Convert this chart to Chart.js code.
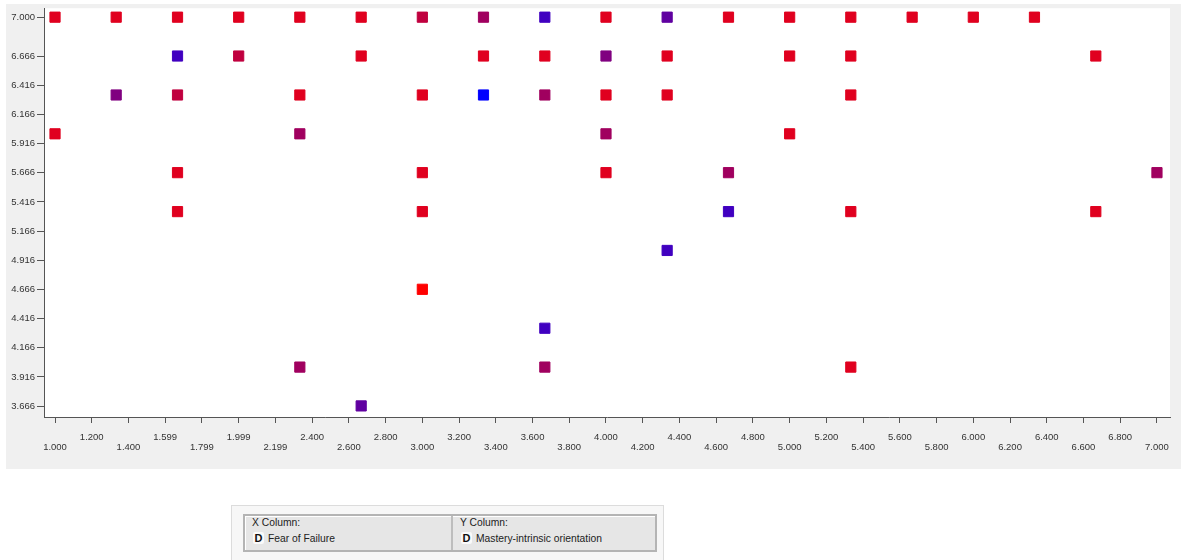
<!DOCTYPE html>
<html>
<head>
<meta charset="utf-8">
<script src="https://cdn.jsdelivr.net/npm/chart.js@4.4.1/dist/chart.umd.min.js"></script>
<style>
  html, body { margin: 0; padding: 0; background: #fff; }
  body { width: 1185px; height: 560px; position: relative; overflow: hidden; }
  #plot { position: absolute; left: 0; top: 0; }
  .colpanel {
    position: absolute; left: 231px; top: 505px; width: 433px; height: 60px;
    background: #f7f7f7; border: 1px solid #dcdcdc; box-sizing: border-box;
  }
  .colbox {
    position: absolute; left: 11px; top: 8px; width: 414px; height: 38px;
    background: #e6e6e6; border: 2px solid #b4b4b4; box-sizing: border-box;
    box-shadow: inset 1px 1px 0 #fff;
    font-family: "Liberation Sans", Arial, sans-serif; font-size: 10.3px; color: #222;
  }
  .cell { position: absolute; top: 0; height: 34px; }
  .cell.x { left: 0; width: 206px; border-right: 2px solid #bdbdbd; }
  .cell.y { left: 208px; width: 202px; }
  .cell .title { position: absolute; left: 7px; top: 1px; }
  .cell .name { position: absolute; left: 8px; top: 16px; white-space: nowrap; }
  .cell .name b {
    display: inline-block; width: 11px; height: 12px; line-height: 12px; text-align: center;
    background: #fafafa; border-radius: 2px; font-size: 11px; margin-right: 4px; color: #111;
  }
</style>
</head>
<body>
<canvas id="plot" width="1185" height="475"></canvas>
<div class="colpanel">
  <div class="colbox">
    <div class="cell x"><span class="title">X Column:</span><span class="name"><b>D</b>Fear of Failure</span></div>
    <div class="cell y"><span class="title">Y Column:</span><span class="name"><b>D</b>Mastery-intrinsic orientation</span></div>
  </div>
</div>
<script>
// Fear of Failure (x) against Mastery-intrinsic orientation (y)
const fearOfFailure = [
  1.000, 1.000,
  1.333, 1.333,
  1.667, 1.667, 1.667, 1.667, 1.667,
  2.000, 2.000,
  2.333, 2.333, 2.333, 2.333,
  2.667, 2.667, 2.667,
  3.000, 3.000, 3.000, 3.000, 3.000,
  3.333, 3.333, 3.333,
  3.667, 3.667, 3.667, 3.667, 3.667,
  4.000, 4.000, 4.000, 4.000, 4.000,
  4.333, 4.333, 4.333, 4.333,
  4.667, 4.667, 4.667,
  5.000, 5.000, 5.000,
  5.333, 5.333, 5.333, 5.333, 5.333,
  5.667, 6.000, 6.333,
  6.667, 6.667,
  7.000
];
const masteryIntrinsic = [
  7.000, 6.000,
  7.000, 6.333,
  7.000, 6.667, 6.333, 5.667, 5.333,
  7.000, 6.667,
  7.000, 6.333, 6.000, 4.000,
  7.000, 6.667, 3.667,
  7.000, 6.333, 5.667, 5.333, 4.667,
  7.000, 6.667, 6.333,
  7.000, 6.667, 6.333, 4.333, 4.000,
  7.000, 6.667, 6.333, 6.000, 5.667,
  7.000, 6.667, 6.333, 5.000,
  7.000, 5.667, 5.333,
  7.000, 6.667, 6.000,
  7.000, 6.667, 6.333, 5.333, 4.000,
  7.000, 7.000, 7.000,
  6.667, 5.333,
  5.667
];
// colour level of each point (0 = red ... 8 = blue)
const pointLevel = [
  1, 1,
  1, 4,
  1, 6, 2, 1, 1,
  1, 2,
  1, 1, 3, 3,
  1, 1, 5,
  2, 1, 1, 1, 0,
  3, 1, 8,
  6, 1, 3, 6, 3,
  1, 4, 1, 3, 1,
  5, 1, 1, 6,
  1, 3, 6,
  1, 1, 1,
  1, 1, 1, 1, 1,
  1, 1, 1,
  1, 1,
  3
];
const levelColors = ['#ff0000', '#e0001f', '#c0003f', '#a0005f', '#800080', '#6000a0', '#4000c0', '#2000df', '#0000ff'];

const xTicks = [1.0, 1.2, 1.4, 1.6, 1.8, 2.0, 2.2, 2.4, 2.6, 2.8, 3.0, 3.2, 3.4, 3.6, 3.8, 4.0,
                4.2, 4.4, 4.6, 4.8, 5.0, 5.2, 5.4, 5.6, 5.8, 6.0, 6.2, 6.4, 6.6, 6.8, 7.0];
const xTickLabels = ['1.000', '1.200', '1.400', '1.599', '1.799', '1.999', '2.199', '2.400', '2.600', '2.800',
                     '3.000', '3.200', '3.400', '3.600', '3.800', '4.000', '4.200', '4.400', '4.600', '4.800',
                     '5.000', '5.200', '5.400', '5.600', '5.800', '6.000', '6.200', '6.400', '6.600', '6.800', '7.000'];
const yTicks = [3.666, 3.916, 4.166, 4.416, 4.666, 4.916, 5.166, 5.416, 5.666, 5.916, 6.166, 6.416, 6.666, 7.0];
const yTickLabels = ['3.666', '3.916', '4.166', '4.416', '4.666', '4.916', '5.166', '5.416', '5.666',
                     '5.916', '6.166', '6.416', '6.666', '7.000'];

const points = fearOfFailure.map((x, i) => ({ x: x, y: masteryIntrinsic[i] }));
const colors = pointLevel.map(l => levelColors[l]);

// grey frame with a white plotting area
const framePlugin = {
  id: 'frame',
  beforeDraw(chart) {
    const { ctx, chartArea: a } = chart;
    ctx.save();
    ctx.fillStyle = '#f0f0f0';
    ctx.fillRect(6, 4, 1175, 465);
    ctx.fillStyle = '#ffffff';
    ctx.fillRect(a.left, a.top, a.right - a.left, a.bottom - a.top);
    ctx.restore();
  }
};

const tickFont = { family: '"Liberation Sans Narrow", "Liberation Sans", Arial, sans-serif', size: 9.5, lineHeight: 1.0 };

new Chart(document.getElementById('plot').getContext('2d'), {
  type: 'scatter',
  data: {
    datasets: [{
      data: points,
      pointStyle: 'rect',
      pointRadius: 7.2,
      pointHoverRadius: 7.2,
      backgroundColor: colors,
      borderColor: colors,
      borderWidth: 1
    }]
  },
  options: {
    responsive: false,
    animation: false,
    layout: { padding: { left: 6, right: 15, top: 8, bottom: 0 } },
    plugins: {
      legend: { display: false },
      tooltip: { enabled: false }
    },
    scales: {
      x: {
        type: 'linear',
        min: 0.94,
        max: 7.071,
        afterBuildTicks: scale => { scale.ticks = xTicks.map(v => ({ value: v })); },
        afterFit: scale => { scale.height = 58; },
        grid: { drawOnChartArea: false, tickLength: 6, color: '#555', tickColor: '#555' },
        border: { color: '#555', width: 1 },
        ticks: {
          autoSkip: false,
          maxRotation: 0,
          padding: 10,
          color: '#333',
          font: tickFont,
          callback: (v, i) => i % 2 ? [xTickLabels[i]] : ['', xTickLabels[i]]
        }
      },
      y: {
        type: 'linear',
        min: 3.572,
        max: 7.077,
        afterBuildTicks: scale => { scale.ticks = yTicks.map(v => ({ value: v })); },
        afterFit: scale => { scale.width = 38; },
        grid: { drawOnChartArea: false, tickLength: 7, color: '#555', tickColor: '#555' },
        border: { color: '#555', width: 1 },
        ticks: {
          autoSkip: false,
          padding: 2,
          color: '#333',
          font: tickFont,
          callback: (v, i) => yTickLabels[i]
        }
      }
    }
  },
  plugins: [framePlugin]
});
</script>
</body>
</html>
